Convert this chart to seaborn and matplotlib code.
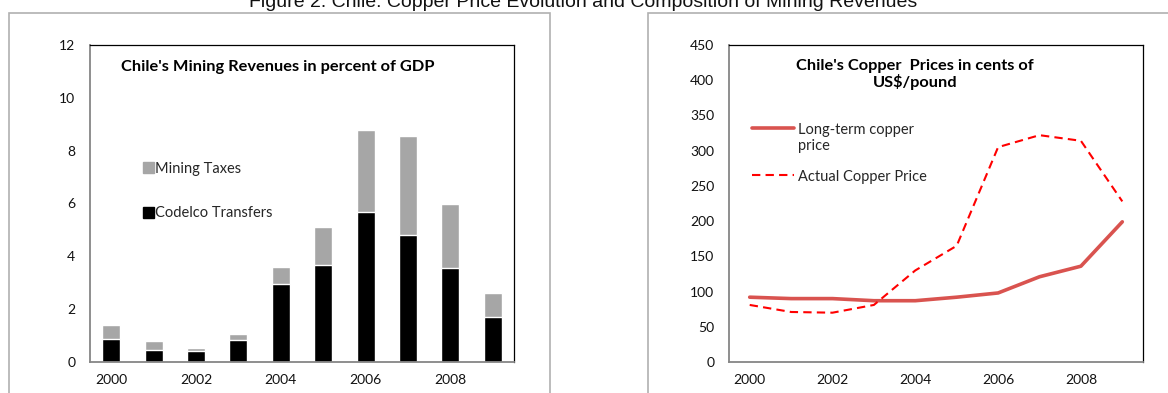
import numpy as np
import pandas as pd
import matplotlib.pyplot as plt
from matplotlib.patches import Patch, Rectangle
from matplotlib.lines import Line2D
import seaborn as sns

# data
years = [2000, 2001, 2002, 2003, 2004, 2005, 2006, 2007, 2008, 2009]
codelco = [0.88, 0.47, 0.43, 0.84, 2.97, 3.67, 5.67, 4.79, 3.55, 1.69]
mining_taxes = [0.53, 0.34, 0.09, 0.23, 0.62, 1.45, 3.12, 3.78, 2.43, 0.91]
long_term = [92, 90, 90, 87, 87, 92, 98, 121, 136, 199]
actual = [81, 71, 70, 81, 130, 165, 305, 322, 314, 228]

rev = pd.DataFrame({"year": years, "codelco": codelco, "taxes": mining_taxes})
rev["total"] = rev["codelco"] + rev["taxes"]
prices = pd.DataFrame({"year": years, "long_term": long_term, "actual": actual})

sns.set_theme(style="white")
plt.rcParams["font.family"] = ["Lato", "DejaVu Sans"]

W, H = 1168, 393
fig = plt.figure(figsize=(W / 100, H / 100), dpi=100)

def px_axes(x0, y0, x1, y1):
    return fig.add_axes([x0 / W, 1 - y1 / H, (x1 - x0) / W, (y1 - y0) / H])

ax1 = px_axes(90, 45, 514, 362)
ax2 = px_axes(729, 45, 1143, 362)

# outer gray frames around each panel
for x0, x1 in [(9, 550), (648, 1175)]:
    fig.add_artist(Rectangle((x0 / W, -0.05), (x1 - x0) / W, 1.05 - 12.7 / H,
                             transform=fig.transFigure, fill=False,
                             edgecolor="#b0b0b0", linewidth=1.2))

fig.text(0.499, 1 - 7 / H, "Figure 2. Chile: Copper Price Evolution and Composition of Mining Revenues",
         ha="center", va="baseline", fontsize=14, family="Liberation Sans", color="#111111")

# stacked bars: total in gray, codelco on top in black
sns.barplot(data=rev, x="year", y="total", native_scale=True, width=0.42,
            color="#a6a6a6", saturation=1, ax=ax1)
sns.barplot(data=rev, x="year", y="codelco", native_scale=True, width=0.42,
            color="black", saturation=1, ax=ax1)

sns.lineplot(data=prices, x="year", y="long_term", color="#d9534f", linewidth=2.6, ax=ax2)
sns.lineplot(data=prices, x="year", y="actual", color="#ff0000", linewidth=1.5,
             dashes=False, ax=ax2)
ax2.lines[1].set_dashes([4, 2.5])

for ax, ymax, step in [(ax1, 12, 2), (ax2, 450, 50)]:
    ax.set_xlim(1999.5, 2009.5)
    ax.set_ylim(0, ymax)
    ax.set_yticks(np.arange(0, ymax + 1, step))
    ax.set_xticks([2000, 2002, 2004, 2006, 2008])
    ax.set_xticks([1999.5, 2004.5, 2009.5], minor=True)
    ax.set_xlabel("")
    ax.set_ylabel("")
    ax.tick_params(axis="x", which="major", length=0, pad=9, labelsize=10, labelcolor="#111111")
    ax.tick_params(axis="x", which="minor", length=3.5, width=1, color="#868686", direction="out")
    ax.tick_params(axis="y", length=3.5, width=1, color="#868686", direction="out",
                   pad=7, labelsize=10, labelcolor="#111111")
    for s in ["left", "bottom"]:
        ax.spines[s].set_color("#868686")
        ax.spines[s].set_linewidth(1.3)
    for s in ["top", "right"]:
        ax.spines[s].set_color("black")
        ax.spines[s].set_linewidth(0.9)
    ax.set_facecolor("white")

ax1.text(0.442, 0.93, "Chile's Mining Revenues in percent of GDP", transform=ax1.transAxes,
         ha="center", va="center", fontsize=11.8, fontweight="bold", color="black")
ax2.text(0.449, 0.907, "Chile's Copper  Prices in cents of\nUS$/pound", transform=ax2.transAxes,
         ha="center", va="center", fontsize=11.8, fontweight="bold", color="black",
         linespacing=1.05)

leg1 = ax1.legend(handles=[Patch(color="#a6a6a6", label="Mining Taxes"),
                           Patch(color="black", label="Codelco Transfers")],
                  loc="upper left", bbox_to_anchor=(0.125, 0.632), frameon=False,
                  fontsize=10.5, handlelength=0.75, handleheight=0.75, handletextpad=0.1,
                  labelspacing=2.1, borderpad=0, borderaxespad=0)

leg2 = ax2.legend(handles=[Line2D([], [], color="#d9534f", linewidth=2.6,
                                  label="Long-term copper\nprice"),
                           Line2D([], [], color="#ff0000", linewidth=1.5,
                                  linestyle=(0, (4, 2.5)), label="Actual Copper Price")],
                  loc="upper left", bbox_to_anchor=(0.055, 0.753), frameon=False,
                  fontsize=10.5, handlelength=2.9, handletextpad=0.3,
                  labelspacing=1.1, borderpad=0, borderaxespad=0)
# keep the handle level with the first line of a wrapped label
for row in leg2._legend_handle_box.get_children()[0].get_children():
    row.align = "top"

fig.savefig("out.png", dpi=100, facecolor="white")
